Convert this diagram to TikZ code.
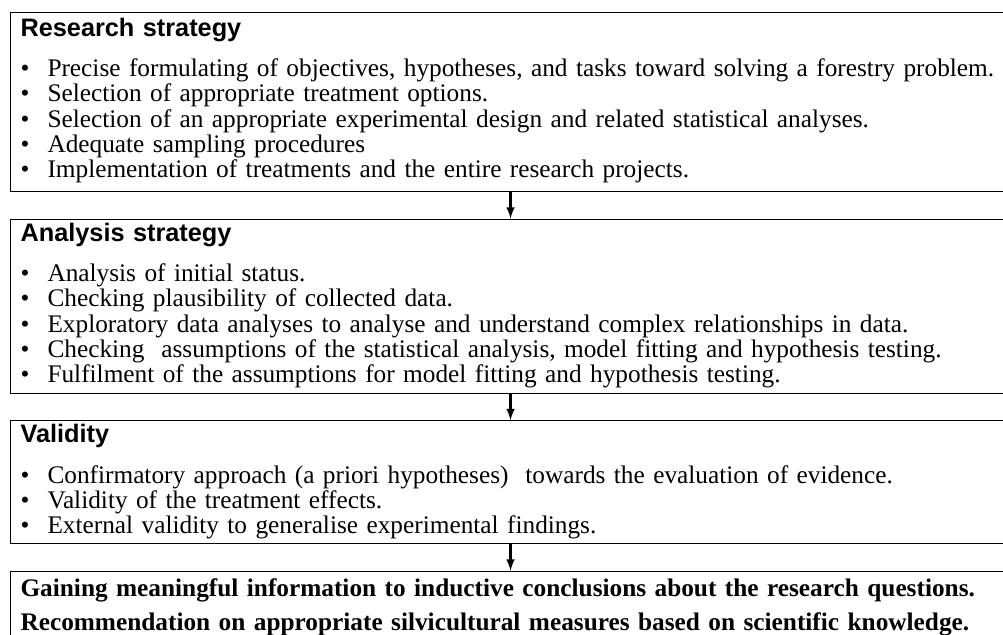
\documentclass[tikz,border=0pt]{standalone}
\usepackage{fontspec}
\setmainfont{Liberation Serif}
\setsansfont{Liberation Sans}
\usetikzlibrary{positioning}
\tikzset{>=latex}

\newcommand{\itm}{\makebox[0.54cm][l]{\textbullet}}
\newcommand{\stagetitle}[1]{{\sffamily\bfseries #1}\\[8.6pt]}

\tikzset{
    stage/.style={draw, line width=0.6pt, text width=19.6cm, align=left,
        inner xsep=0.2cm, inner ysep=0pt, text height=0.47cm,
        font=\fontsize{14.4}{14.4}\selectfont},
    flow/.style={->, line width=1.2pt}
}

\begin{document}
\begin{tikzpicture}

    \useasboundingbox (0,0) rectangle (20.06,-12.7);

    % stages
    \node [stage, text depth=3.11cm, anchor=north west] (rs) at (0.2,-0.24) {
        \stagetitle{Research strategy}
        \itm Precise formulating of objectives, hypotheses, and tasks toward solving a forestry problem.\\
        \itm Selection of appropriate treatment options.\\
        \itm Selection of an appropriate experimental design and related statistical analyses.\\
        \itm Adequate sampling procedures\\
        \itm Implementation of treatments and the entire research projects.};
    \node [stage, text height=0.44cm, text depth=3.04cm, below=0.53cm of rs] (as) {
        \stagetitle{Analysis strategy}
        \itm Analysis of initial status.\\
        \itm Checking plausibility of collected data.\\
        \itm Exploratory data analyses to analyse and understand complex relationships in data.\\
        \itm Checking\ \ assumptions of the statistical analysis, model fitting and hypothesis testing.\\
        \itm Fulfilment of the assumptions for model fitting and hypothesis testing.};
    \node [stage, text height=0.44cm, text depth=2.02cm, below=0.53cm of as] (va) {
        \stagetitle{Validity}
        \itm Confirmatory approach (a priori hypotheses)\ \ towards the evaluation of evidence.\\
        \itm Validity of the treatment effects.\\
        \itm External validity to generalise experimental findings.};
    \node [stage, text height=0.5cm, text depth=1.2cm, below=0.53cm of va,
           font=\bfseries\fontsize{14.4}{14.4}\selectfont] (gm) {
        Gaining meaningful information to inductive conclusions about the research questions.\\[4.9pt]
        Recommendation on appropriate silvicultural measures based on scientific knowledge.};

    % arrows
    \draw [flow] (rs) -- (as);
    \draw [flow] (as) -- (va);
    \draw [flow] (va) -- (gm);

\end{tikzpicture}
\end{document}
